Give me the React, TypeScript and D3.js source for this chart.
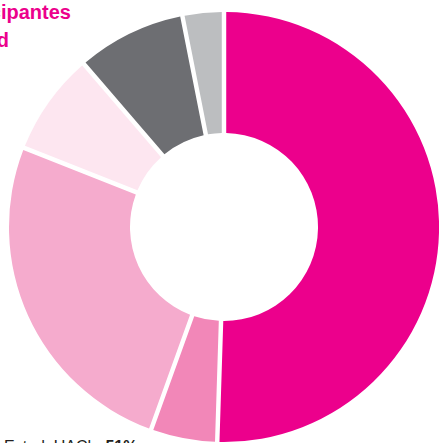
import * as d3 from 'd3';
import React from 'react';

// slices clockwise from 12 o'clock
const categories = ['Estud. UACh', 'Grupo B', 'Grupo C', 'Grupo D', 'Grupo E', 'Grupo F'];
const values = [50.5, 5, 25.5, 7.7, 8.2, 3.1];
const colors = ['#ec008c', '#f287b8', '#f5abcd', '#fde6f0', '#6d6e72', '#bcbec0'];

const titleLines = ['Participantes', 'por universidad'];
const bottomLabel = 'Estud. UACh: ';
const bottomValue = '51%';

export default function App() {
  const width = 439;
  const height = 443;
  const cx = 224;
  const cy = 227;
  const outer = 215;
  const inner = 94;

  const pie = d3.pie<number>().sort(null).value((d) => d);
  const arcs = pie(values);
  const arc = d3
    .arc<d3.PieArcDatum<number>>()
    .innerRadius(inner)
    .outerRadius(outer)
    .padAngle(0.019);

  return (
    <svg
      width={width}
      height={height}
      style={{ position: 'absolute', left: 0, top: 0, fontFamily: '"Liberation Sans", Arial, sans-serif' }}
    >
      <g transform={`translate(${cx},${cy})`}>
        {arcs.map((a, i) => (
          <path key={categories[i]} d={arc(a) || ''} fill={colors[i]} />
        ))}
      </g>
      <text x={71} y={19} textAnchor="end" fontSize={20} fontWeight="bold" fill="#ec008c">
        {titleLines[0]}
      </text>
      <text x={9} y={47} textAnchor="end" fontSize={20} fontWeight="bold" fill="#ec008c">
        {titleLines[1]}
      </text>
      <text x={4} y={452} fontSize={16} fill="#231f20">
        {bottomLabel}
        <tspan fontWeight="bold">{bottomValue}</tspan>
      </text>
    </svg>
  );
}
